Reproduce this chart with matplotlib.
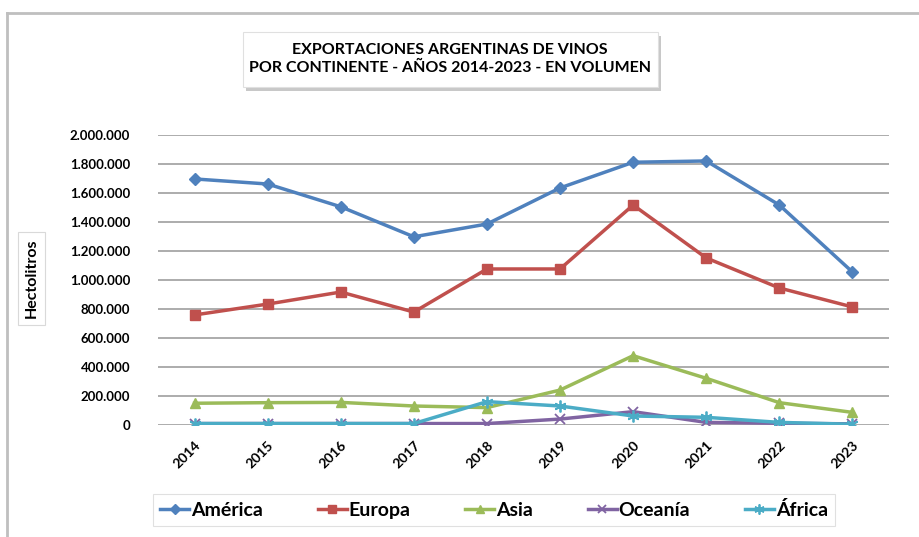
import matplotlib
matplotlib.use("Agg")
import matplotlib.pyplot as plt
from matplotlib.patches import Rectangle
from matplotlib.ticker import FuncFormatter

plt.rcParams["font.family"] = ["Lato", "DejaVu Sans"]

years = ["2014", "2015", "2016", "2017", "2018", "2019", "2020", "2021", "2022", "2023"]
america = [1697000, 1662000, 1505000, 1298000, 1386000, 1635000, 1812000, 1821000, 1517000, 1055000]
europa = [759000, 834000, 917000, 779000, 1076000, 1076000, 1517000, 1152000, 945000, 814000]
asia = [150000, 154000, 156000, 131000, 120000, 241000, 478000, 322000, 154000, 87000]
oceania = [10000, 10000, 10000, 10000, 10000, 41000, 92000, 18000, 12000, 8000]
africa = [10000, 10000, 10000, 10000, 161000, 131000, 62000, 53000, 18000, 5000]

series = [
    ("América", america, "#4F81BD", "D", 6),
    ("Europa", europa, "#C0504D", "s", 6.5),
    ("Asia", asia, "#9BBB59", "^", 7.5),
    ("Oceanía", oceania, "#8064A2", "x", 6.5),
    ("África", africa, "#4BACC6", (6, 2, 0), 8.5),
]

W, H = 919, 537
fig = plt.figure(figsize=(W / 100, H / 100), dpi=100)

# outer border (left and top only visible)
fig.add_artist(plt.Line2D([7 / W, 7 / W], [0, 1 - 13 / H], color="#BFBFBF", lw=2))
fig.add_artist(plt.Line2D([7 / W, 1], [1 - 13 / H, 1 - 13 / H], color="#BFBFBF", lw=2))

ax = fig.add_axes([158 / W, 1 - 425 / H, (889 - 158) / W, 290 / H])
x = list(range(len(years)))
for name, vals, col, mk, ms in series:
    mew = 1.3 if mk in ("x", (6, 2, 0)) else 1
    ax.plot(x, vals, color=col, lw=2.5, marker=mk, ms=ms, mew=mew, label=name)

ax.set_xlim(-0.5, 9.5)
ax.set_ylim(0, 2000000)
ax.set_yticks(range(0, 2000001, 200000))
ax.yaxis.set_major_formatter(FuncFormatter(lambda v, p: f"{int(v):,}".replace(",", ".")))
ax.set_xticks(x)
ax.set_xticklabels(years, rotation=45, ha="right", va="top", rotation_mode="anchor",
                   fontsize=10, fontweight="bold")
ax.tick_params(axis="both", length=0)
ax.tick_params(axis="y", pad=20, labelsize=9.5)
ax.tick_params(axis="x", pad=10)
for lbl in ax.get_yticklabels():
    lbl.set_fontweight("bold")
ax.grid(axis="y", color="#A6A6A6", lw=1.3)
ax.set_axisbelow(True)
for s in ax.spines.values():
    s.set_visible(False)

# title box with shadow
fig.add_artist(Rectangle((246 / W, 1 - 91 / H), 415 / W, 55 / H, transform=fig.transFigure,
                         facecolor="#C8C8C8", edgecolor="none"))
fig.add_artist(Rectangle((243 / W, 1 - 87 / H), 415 / W, 55 / H, transform=fig.transFigure,
                         facecolor="white", edgecolor="#E0E0E0", lw=0.8))
fig.text(450 / W, 1 - 59 / H, "EXPORTACIONES ARGENTINAS DE VINOS\nPOR CONTINENTE - AÑOS 2014-2023 - EN VOLUMEN",
         ha="center", va="center", fontsize=11.5, fontweight="bold", linespacing=1.35)

# y label box
fig.add_artist(Rectangle((18 / W, 1 - 325 / H), 27 / W, 93 / H, transform=fig.transFigure,
                         facecolor="white", edgecolor="#D9D9D9", lw=0.8))
fig.text(31.5 / W, 1 - 278.5 / H, "Hectolitros", rotation=90, ha="center", va="center",
         fontsize=11.5, fontweight="bold")

leg = fig.legend(loc="center", bbox_to_anchor=(494 / W, 1 - 510 / H), ncol=5,
                 prop={"size": 14, "weight": "bold"}, handlelength=1.5, handletextpad=0.1,
                 columnspacing=2.8, frameon=True, fancybox=False, borderpad=0.35,
                 markerscale=0.85)
leg.get_frame().set_edgecolor("#D9D9D9")
leg.get_frame().set_linewidth(0.8)

fig.savefig("out.png", dpi=100)
